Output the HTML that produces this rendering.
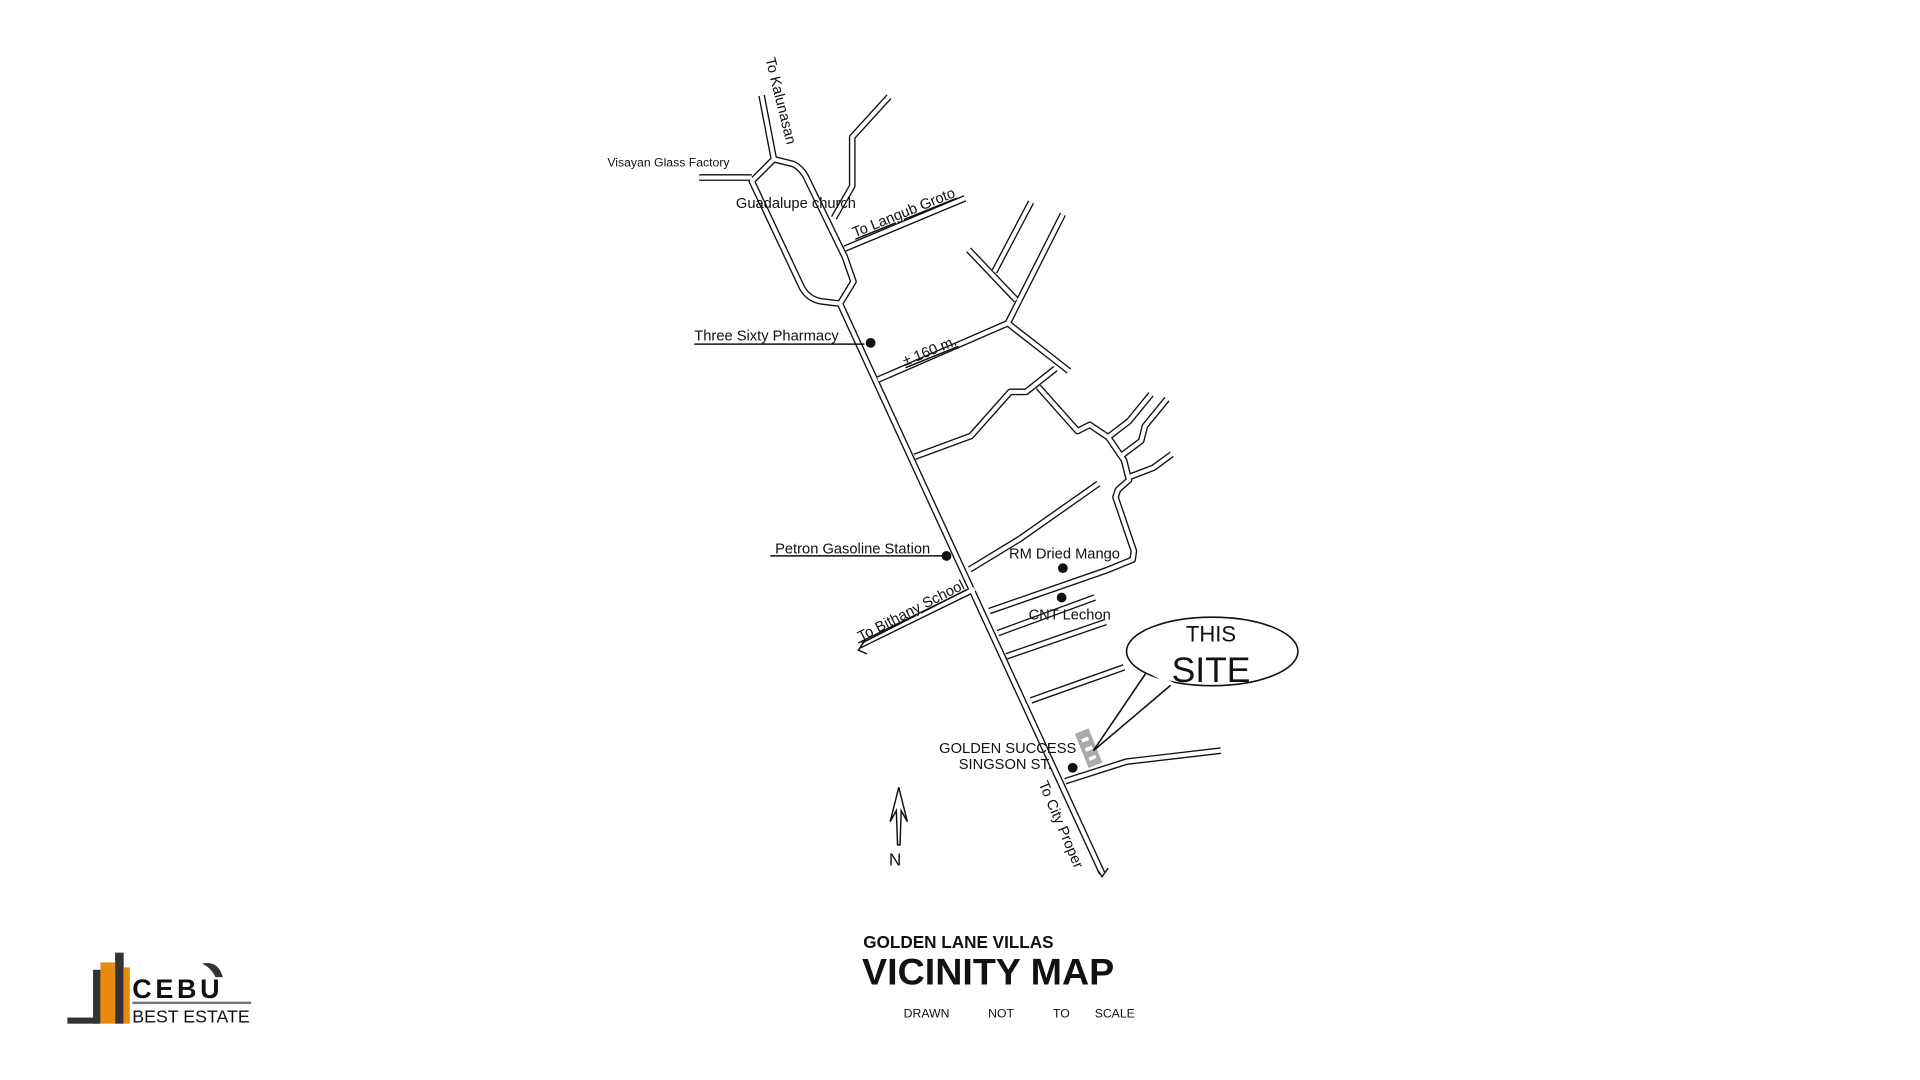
<!DOCTYPE html>
<html><head><meta charset="utf-8"><style>
html,body{margin:0;padding:0;background:#fff;}
svg{display:block}
text{font-family:"Liberation Sans",sans-serif;fill:#111}
</style></head><body>
<svg width="1920" height="1080" viewBox="0 0 1568 882" xmlns="http://www.w3.org/2000/svg">
<defs>
<g id="roads">
<path d="M686,248 L900,713"/>
<path d="M686,248 L670,246 Q660,244 655,235 L614,148 L632,130 L648,134 Q654,137 658,144 L690,210 L697,230 L686,248"/>
<path d="M622,78 L632,130"/>
<path d="M571,145 L614,145"/>
<path d="M681,178 L696,152 L696,112 L726,79"/>
<path d="M690,203 L788,162"/>
<path d="M717,310 L823,264"/>
<path d="M823,264 L868,175"/>
<path d="M830,245 L791,204"/>
<path d="M812,222 L842,165"/>
<path d="M823,264 L873,303"/>
<path d="M747,373 L793,356 L825,320 L838,320 L862,301"/>
<path d="M848,316 L880,352 L890,347 L905,357 L918,376 L922,392 L913,400 L911,406 L926,450 L925,457 L903,466 L808,499"/>
<path d="M905,357 L922,344 L940,322"/>
<path d="M916,372 L932,360 L935,348 L953,326"/>
<path d="M921,390 L942,382 L957,371"/>
<path d="M792,465 L833,440 L897,395"/>
<path d="M796,481 L702,527"/>
<path d="M815,517 L894,488"/>
<path d="M822,536 L903,508"/>
<path d="M842,572 L918,545"/>
<path d="M870,638 L920,622 L997,613"/>
</g>
</defs>
<rect width="1568" height="882" fill="#fff"/>
<g fill="none" stroke-linejoin="round" stroke-linecap="butt">
<use href="#roads" stroke="#111" stroke-width="5.5"/>
<use href="#roads" stroke="#fff" stroke-width="3.3"/>
</g>
<g stroke="#111" stroke-width="1.2" fill="none">
<path d="M707,522 L701,531 L708,534"/>
<path d="M896,710 L900,716 L905,709"/>
<line x1="567" y1="281" x2="706" y2="281"/>
<line x1="629" y1="454" x2="772" y2="454"/>
<path d="M734,643 L727,671 L732,662 L733,690 L735,690 L736,662 L741,671 Z"/>
</g>
<g fill="#111">
<circle cx="711" cy="280" r="4"/>
<circle cx="773" cy="454" r="4"/>
<circle cx="868" cy="464" r="4"/>
<circle cx="867" cy="488" r="4"/>
<circle cx="876" cy="627" r="4"/>
</g>
<g transform="rotate(-22 889 611)"><rect x="883" y="596" width="12" height="30" fill="#aaa"/>
<rect x="886" y="602" width="6" height="3" fill="#fff"/><rect x="886" y="610" width="6" height="3" fill="#fff"/><rect x="886" y="618" width="6" height="3" fill="#fff"/></g>
<path d="M937,548 L893,613 L958,558" fill="#fff" stroke="#111" stroke-width="1.3"/>
<ellipse cx="990" cy="532" rx="70" ry="28" fill="#fff" stroke="#111" stroke-width="1.3"/>
<path d="M936,547 L958,559" stroke="#fff" stroke-width="3"/>
<text x="989" y="524" font-size="18" text-anchor="middle">THIS</text>
<text x="989" y="557" font-size="29" text-anchor="middle">SITE</text>
<text x="496" y="136" font-size="10">Visayan Glass Factory</text>
<text x="601" y="170" font-size="12">Guadalupe church</text>
<text x="567" y="278" font-size="12">Three Sixty Pharmacy</text>
<text x="633" y="452" font-size="12">Petron Gasoline Station</text>
<text x="824" y="456" font-size="12">RM Dried Mango</text>
<text x="840" y="506" font-size="12">CNT Lechon</text>
<text x="767" y="615" font-size="12">GOLDEN SUCCESS</text>
<text x="783" y="628" font-size="12">SINGSON ST.</text>
<text x="731" y="707" font-size="14" text-anchor="middle" fill="#444">N</text>
<text transform="translate(625,48) rotate(76)" font-size="12">To Kalunasan</text>
<text transform="translate(698,194) rotate(-22)" font-size="12" text-decoration="underline">To Langub Groto</text>
<text transform="translate(739,299) rotate(-22)" font-size="12" text-decoration="underline">± 160 m.</text>
<text transform="translate(703,524) rotate(-27)" font-size="12" text-decoration="underline">To Bithany School</text>
<text transform="translate(848,640) rotate(67)" font-size="12">To City Proper</text>
<text x="705" y="774" font-size="14" font-weight="bold">GOLDEN LANE VILLAS</text>
<text x="704" y="804" font-size="30" font-weight="bold" textLength="206" lengthAdjust="spacingAndGlyphs">VICINITY MAP</text>
<text x="738" y="831" font-size="10">DRAWN</text>
<text x="807" y="831" font-size="10">NOT</text>
<text x="860" y="831" font-size="10">TO</text>
<text x="894" y="831" font-size="10">SCALE</text>
<g>
<rect x="94" y="778" width="7" height="58" fill="#333"/>
<rect x="82" y="786" width="12" height="50" fill="#e88a10"/>
<rect x="76" y="792" width="6" height="44" fill="#333"/>
<rect x="101" y="790" width="5" height="46" fill="#e88a10"/>
<rect x="55" y="831" width="25" height="5" fill="#333"/>
<path d="M165,787 Q178,784 182,798 L176,798 Q172,790 165,787Z" fill="#333"/>
<text x="108" y="815" font-size="22" font-weight="bold" fill="#333" letter-spacing="3">CEBU</text>
<rect x="108" y="818" width="97" height="2" fill="#777"/>
<text x="108" y="835" font-size="14" fill="#333" textLength="96" lengthAdjust="spacingAndGlyphs">BEST ESTATE</text>
</g>
</svg>
</body></html>
